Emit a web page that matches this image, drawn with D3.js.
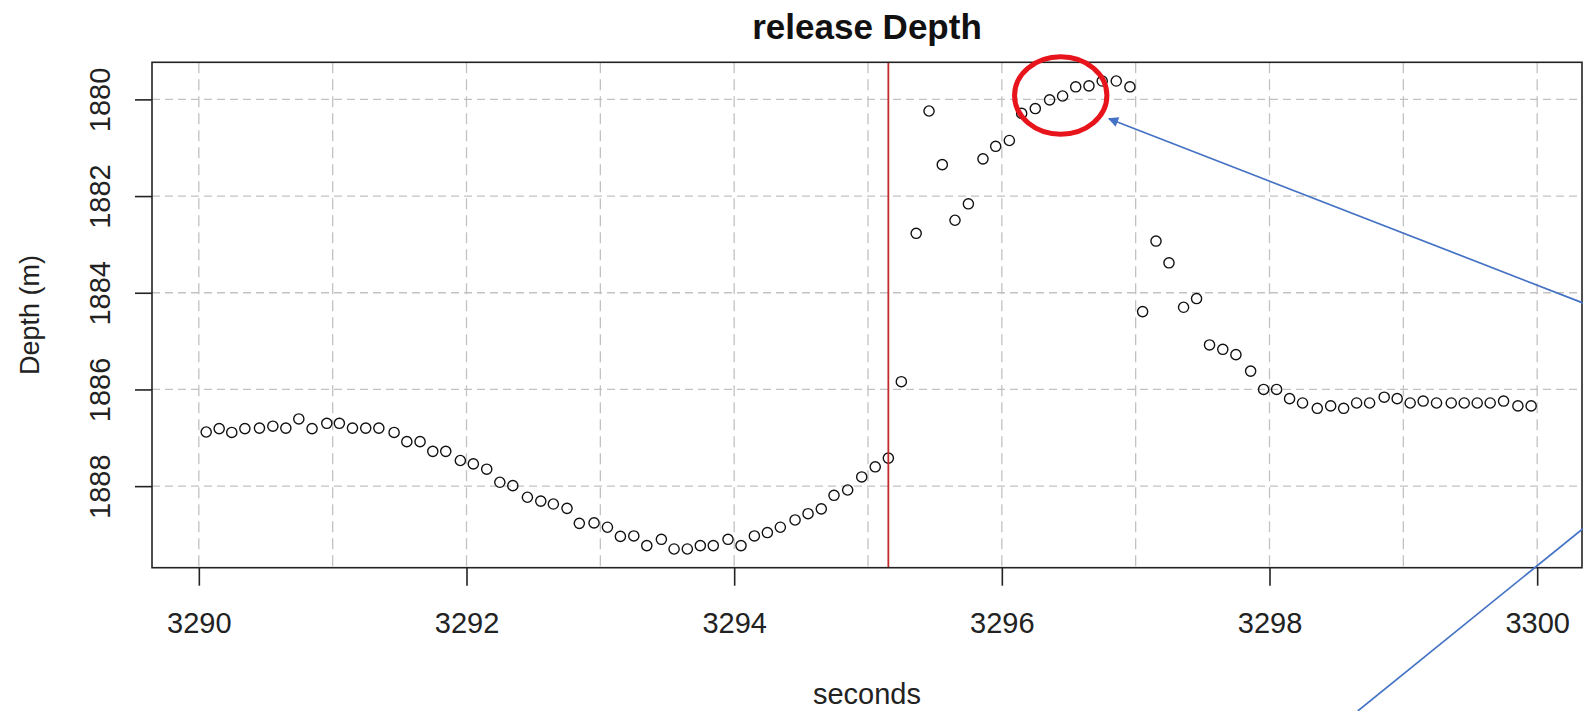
<!DOCTYPE html>
<html>
<head>
<meta charset="utf-8">
<script src="https://cdn.jsdelivr.net/npm/d3@7"></script>
<style>
  body { margin: 0; background: #fff; }
  svg { display: block; font-family: "Liberation Sans", Arial, Helvetica, sans-serif; }
</style>
</head>
<body>
<svg id="chart" width="1583" height="711"></svg>
<script>
// Sample times (s) and depths (m), ~10 Hz
const seconds = [
  3290.055, 3290.152, 3290.246, 3290.344, 3290.453, 3290.553, 3290.650, 3290.747, 3290.846, 3290.956,
  3291.050, 3291.148, 3291.247, 3291.345, 3291.459, 3291.554, 3291.653, 3291.748, 3291.845, 3291.954,
  3292.051, 3292.151, 3292.249, 3292.346, 3292.455, 3292.555, 3292.649, 3292.751, 3292.843, 3292.953,
  3293.053, 3293.150, 3293.250, 3293.347, 3293.456, 3293.551, 3293.650, 3293.747, 3293.844, 3293.954,
  3294.051, 3294.151, 3294.248, 3294.345, 3294.455, 3294.552, 3294.651, 3294.746, 3294.848, 3294.953,
  3295.054, 3295.152, 3295.249, 3295.360, 3295.456, 3295.555, 3295.650, 3295.750, 3295.859, 3295.954,
  3296.056, 3296.148, 3296.250, 3296.357, 3296.454, 3296.552, 3296.651, 3296.750, 3296.855, 3296.957,
  3297.052, 3297.152, 3297.249, 3297.358, 3297.455, 3297.552, 3297.651, 3297.749, 3297.859, 3297.956,
  3298.053, 3298.150, 3298.247, 3298.357, 3298.457, 3298.554, 3298.651, 3298.748, 3298.857, 3298.954,
  3299.051, 3299.148, 3299.248, 3299.358, 3299.455, 3299.552, 3299.649, 3299.749, 3299.856, 3299.955
];
const depth = [
  1886.88, 1886.81, 1886.89, 1886.81, 1886.80, 1886.76, 1886.80, 1886.61, 1886.81, 1886.70,
  1886.70, 1886.80, 1886.80, 1886.80, 1886.89, 1887.08, 1887.08, 1887.28, 1887.28, 1887.47,
  1887.54, 1887.65, 1887.92, 1887.99, 1888.23, 1888.31, 1888.37, 1888.46, 1888.77, 1888.76,
  1888.85, 1889.04, 1889.03, 1889.23, 1889.10, 1889.30, 1889.30, 1889.23, 1889.23, 1889.10,
  1889.23, 1889.03, 1888.96, 1888.85, 1888.70, 1888.57, 1888.47, 1888.19, 1888.08, 1887.81,
  1887.60, 1887.42, 1885.84, 1882.77, 1880.24, 1881.35, 1882.50, 1882.16, 1881.23, 1880.97,
  1880.85, 1880.29, 1880.19, 1880.01, 1879.93, 1879.74, 1879.72, 1879.62, 1879.62, 1879.74,
  1884.39, 1882.93, 1883.38, 1884.30, 1884.12, 1885.08, 1885.17, 1885.28, 1885.62, 1886.00,
  1886.00, 1886.19, 1886.28, 1886.39, 1886.34, 1886.39, 1886.28, 1886.28, 1886.16, 1886.19,
  1886.28, 1886.24, 1886.28, 1886.28, 1886.28, 1886.28, 1886.28, 1886.24, 1886.34, 1886.34
];
const releaseTime = 3295.152;

const xTicks = [3290, 3292, 3294, 3296, 3298, 3300];
const xGrid = [3290, 3291, 3292, 3293, 3294, 3295, 3296, 3297, 3298, 3299, 3300];
const yTicks = [1880, 1882, 1884, 1886, 1888];
const xLimits = [3289.65, 3300.335];

const titleText = "release Depth";
const xLabel = "seconds";
const yLabel = "Depth (m)";

// Callout shapes, in data units
const callout = { cx: 3296.44, cy: 1879.92, rx: 0.345, ry: 0.80 };
const arrowFrom = [3300.36, 1884.23];
const arrowTo = [3296.80, 1880.40];
const pointerLine = [[3298.66, 1892.65], [3300.40, 1888.75]];

const svg = d3.select("#chart");
const plot = { left: 152, right: 1582, top: 62.3, bottom: 567.7 };

const x = d3.scaleLinear().domain(xLimits).range([plot.left, plot.right]);
const [dLo, dHi] = d3.extent(depth);
const dPad = (dHi - dLo) * 0.04;
const y = d3.scaleLinear().domain([dLo - dPad, dHi + dPad]).range([plot.top, plot.bottom]);

// grid
const grid = svg.append("g").attr("stroke", "#c2c2c2").attr("stroke-width", 1.3);
grid.selectAll("line.v").data(xGrid).join("line").attr("class", "v")
  .attr("x1", d => x(d)).attr("x2", d => x(d))
  .attr("y1", plot.top).attr("y2", plot.bottom)
  .attr("stroke-dasharray", "11,6");
grid.selectAll("line.h").data(yTicks).join("line").attr("class", "h")
  .attr("x1", plot.left).attr("x2", plot.right)
  .attr("y1", d => y(d)).attr("y2", d => y(d))
  .attr("stroke-dasharray", "8,5");

// points
svg.append("g").selectAll("circle").data(seconds).join("circle")
  .attr("cx", d => x(d))
  .attr("cy", (d, i) => y(depth[i]))
  .attr("r", 5.1)
  .attr("fill", "none")
  .attr("stroke", "#111")
  .attr("stroke-width", 1.4);

// release marker
svg.append("line")
  .attr("x1", x(releaseTime)).attr("x2", x(releaseTime))
  .attr("y1", plot.top).attr("y2", plot.bottom)
  .attr("stroke", "#c42a2a").attr("stroke-width", 1.8);

// frame
svg.append("rect")
  .attr("x", plot.left).attr("y", plot.top)
  .attr("width", plot.right - plot.left).attr("height", plot.bottom - plot.top)
  .attr("fill", "none").attr("stroke", "#222").attr("stroke-width", 1.6);

// x axis
const gx = svg.append("g").attr("transform", `translate(0,${plot.bottom})`)
  .call(d3.axisBottom(x).tickValues(xTicks).tickFormat(d3.format("d")).tickSize(18).tickPadding(27));
gx.select(".domain").remove();
gx.selectAll(".tick line").attr("stroke", "#222").attr("stroke-width", 1.6);
gx.selectAll(".tick text").attr("font-size", 29).attr("fill", "#222")
  .attr("font-family", "Liberation Sans, Arial, sans-serif");

// y axis with labels parallel to the axis
const gy = svg.append("g").attr("transform", `translate(${plot.left},0)`)
  .call(d3.axisLeft(y).tickValues(yTicks).tickFormat(d3.format("d")).tickSize(17));
gy.select(".domain").remove();
gy.selectAll(".tick line").attr("stroke", "#222").attr("stroke-width", 1.6);
gy.selectAll(".tick text")
  .attr("transform", "rotate(-90)")
  .attr("x", 0).attr("y", -42).attr("dy", 0)
  .attr("text-anchor", "middle")
  .attr("font-size", 29).attr("fill", "#222")
  .attr("font-family", "Liberation Sans, Arial, sans-serif");

// titles
svg.append("text").attr("x", (plot.left + plot.right) / 2).attr("y", 39)
  .attr("text-anchor", "middle").attr("font-weight", "bold").attr("font-size", 35)
  .attr("fill", "#111").text(titleText);
svg.append("text").attr("x", (plot.left + plot.right) / 2).attr("y", 704)
  .attr("text-anchor", "middle").attr("font-size", 29).attr("fill", "#222").text(xLabel);
svg.append("text").attr("transform", `translate(39,${(plot.top + plot.bottom) / 2}) rotate(-90)`)
  .attr("text-anchor", "middle").attr("font-size", 27).attr("fill", "#222").text(yLabel);

// callout: ring and pointers
const defs = svg.append("defs");
defs.append("marker").attr("id", "head")
  .attr("viewBox", "0 0 10 10").attr("refX", 9).attr("refY", 5)
  .attr("markerWidth", 7.5).attr("markerHeight", 6).attr("markerUnits", "strokeWidth")
  .attr("orient", "auto")
  .append("path").attr("d", "M0,0 L10,5 L0,10 Z").attr("fill", "#4472c4");

svg.append("line")
  .attr("x1", x(arrowFrom[0])).attr("y1", y(arrowFrom[1]))
  .attr("x2", x(arrowTo[0])).attr("y2", y(arrowTo[1]))
  .attr("stroke", "#4472c4").attr("stroke-width", 1.7)
  .attr("marker-end", "url(#head)");
svg.append("line")
  .attr("x1", x(pointerLine[0][0])).attr("y1", y(pointerLine[0][1]))
  .attr("x2", x(pointerLine[1][0])).attr("y2", y(pointerLine[1][1]))
  .attr("stroke", "#4472c4").attr("stroke-width", 1.7);

svg.append("ellipse")
  .attr("cx", x(callout.cx)).attr("cy", y(callout.cy))
  .attr("rx", x(callout.cx + callout.rx) - x(callout.cx))
  .attr("ry", y(callout.cy + callout.ry) - y(callout.cy))
  .attr("fill", "none").attr("stroke", "#e8141c").attr("stroke-width", 5);
</script>
</body>
</html>
